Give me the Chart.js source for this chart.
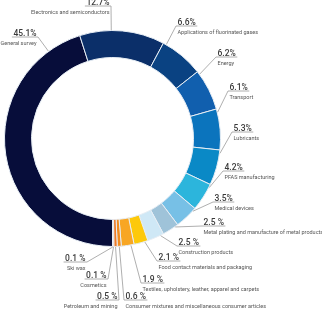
<!DOCTYPE html>
<html lang="en">
<head>
    <meta charset="UTF-8">
    <title>PFAS uses</title>
    <style>
        body { margin: 0; background: #fff; }
        #wrap { width: 322px; height: 309px; }
    </style>
</head>
<body>
<div id="wrap">
    <canvas id="chart" width="322" height="309"></canvas>
</div>

<script src="https://cdn.jsdelivr.net/npm/chart.js"></script>
<script>
    const categories = [
        'General survey',
        'Electronics and semiconductors',
        'Applications of fluorinated gases',
        'Energy',
        'Transport',
        'Lubricants',
        'PFAS manufacturing',
        'Medical devices',
        'Metal plating and manufacture of metal products',
        'Construction products',
        'Food contact materials and packaging',
        'Textiles, upholstery, leather, apparel and carpets',
        'Consumer mixtures and miscellaneous consumer articles',
        'Petroleum and mining',
        'Cosmetics',
        'Ski wax'
    ]
    const values = [45.1, 12.7, 6.6, 6.2, 6.1, 5.3, 4.2, 3.5, 2.5, 2.5, 2.1, 1.9, 0.6, 0.5, 0.1, 0.1]
    const pctLabels = ['45.1%', '12.7%', '6.6%', '6.2%', '6.1%', '5.3%', '4.2%', '3.5%',
        '2.5 %', '2.5 %', '2.1 %', '1.9 %', '0.6 %', '0.5 %', '0.1 %', '0.1 %']

    const colors = ['#070d3a', '#0b2f69', '#0a4282', '#115fae', '#0b74bd', '#0a89c6', '#2cb5dc',
        '#77c0e6', '#9fc3d9', '#cfe8f6', '#fdc90a', '#f8a623', '#f28b1e', '#ef7a25', '#e9582c', '#e3473a']

    // where each label's underline meets its leader line, and which side the text sits on
    const labelLayout = [
        {x: 38, y: 37, side: 'right'},
        {x: 111, y: 6, side: 'right'},
        {x: 176, y: 26, side: 'left'},
        {x: 216, y: 57, side: 'left'},
        {x: 228, y: 91, side: 'left'},
        {x: 232, y: 132, side: 'left'},
        {x: 223, y: 171, side: 'left'},
        {x: 213, y: 202, side: 'left'},
        {x: 202, y: 226, side: 'left'},
        {x: 177, y: 246, side: 'left'},
        {x: 157, y: 261, side: 'left'},
        {x: 141, y: 283, side: 'left'},
        {x: 124, y: 300, side: 'left'},
        {x: 119, y: 300, side: 'right'},
        {x: 108, y: 279, side: 'right'},
        {x: 87, y: 262, side: 'right'}
    ]

    const pctFont = '500 8.5px Roboto'
    const catFont = '5.5px Roboto'

    function leaderStart(arc, ex, ey) {
        const p = arc.getProps(['x', 'y', 'startAngle', 'endAngle', 'outerRadius'], true)
        const TAU = Math.PI * 2
        let a = Math.atan2(ey - p.y, ex - p.x)
        while (a < p.startAngle) a += TAU
        while (a >= p.startAngle + TAU) a -= TAU
        const m = Math.min(0.03, (p.endAngle - p.startAngle) / 2)
        if (a > p.endAngle - m) {
            const toEnd = a - p.endAngle
            const toStart = p.startAngle + TAU - a
            a = toEnd < toStart ? p.endAngle - m : p.startAngle + m
        } else if (a < p.startAngle + m) {
            a = p.startAngle + m
        }
        const r = p.outerRadius + 0.5
        return {x: p.x + Math.cos(a) * r, y: p.y + Math.sin(a) * r}
    }

    const calloutPlugin = {
        id: 'callouts',
        afterDraw(chart) {
            const ctx = chart.ctx
            const arcs = chart.getDatasetMeta(0).data
            ctx.save()
            arcs.forEach((arc, i) => {
                const L = labelLayout[i]
                const s = leaderStart(arc, L.x, L.y)
                ctx.font = pctFont
                const w = ctx.measureText(pctLabels[i]).width + 3
                const dir = L.side === 'left' ? 1 : -1

                ctx.strokeStyle = '#9a9a9a'
                ctx.lineWidth = 0.8
                ctx.beginPath()
                ctx.moveTo(s.x, s.y)
                ctx.lineTo(L.x, L.y)
                ctx.lineTo(L.x + dir * w, L.y)
                ctx.stroke()

                ctx.textAlign = L.side
                ctx.fillStyle = '#3a3a3a'
                ctx.textBaseline = 'alphabetic'
                ctx.fillText(pctLabels[i], L.x + dir * 1.5, L.y - 1.5)

                ctx.font = catFont
                ctx.fillStyle = '#555'
                ctx.textBaseline = 'middle'
                ctx.fillText(categories[i], L.x + dir * 1.5, L.y + 6.5)
            })
            ctx.restore()
        }
    }

    new Chart(document.getElementById('chart'), {
        type: 'doughnut',
        data: {
            labels: categories,
            datasets: [{
                data: values,
                backgroundColor: colors,
                borderColor: '#e6edf4',
                borderWidth: 1
            }]
        },
        options: {
            responsive: false,
            animation: false,
            rotation: 180,
            cutout: '75%',
            layout: {padding: {left: 4, top: 30, right: 101, bottom: 62}},
            plugins: {
                legend: {display: false},
                tooltip: {enabled: false}
            }
        },
        plugins: [calloutPlugin]
    })
</script>
</body>
</html>
